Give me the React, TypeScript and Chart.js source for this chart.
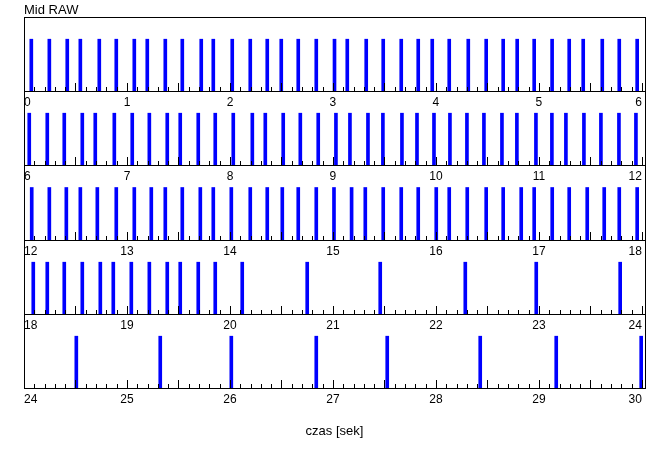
import React, { useEffect, useRef } from 'react';
import { Chart, registerables } from 'chart.js';

Chart.register(...registerables);

// ---------- data ----------
const CHART_TITLE = 'Mid RAW';
const AXIS_TITLE = 'czas [sek]';
const PANEL_STARTS = [0, 6, 12, 18, 24];
const PANEL_SPAN = 6.03; // seconds visible in one strip
const BAR_LEVEL = 0.7; // height of each beat mark (fraction of strip)

const TICKS_1 = [0, 1, 2, 3, 4, 5, 6];
const TICKS_2 = [6, 7, 8, 9, 10, 11, 12];
const TICKS_3 = [12, 13, 14, 15, 16, 17, 18];
const TICKS_4 = [18, 19, 20, 21, 22, 23, 24];
const TICKS_5 = [24, 25, 26, 27, 28, 29, 30];

const BEATS_1 = [
  0.071, 0.246, 0.42, 0.547, 0.731, 0.896, 1.071, 1.197, 1.372, 1.537, 1.721, 1.838,
  2.022, 2.197, 2.362, 2.498, 2.663, 2.838, 3.015, 3.139, 3.323, 3.488, 3.663, 3.828,
  3.964, 4.129, 4.314, 4.488, 4.653, 4.789, 4.954, 5.128, 5.294, 5.43, 5.615, 5.78, 5.954,
];
const BEATS_2 = [
  6.051, 6.226, 6.391, 6.566, 6.692, 6.877, 7.051, 7.217, 7.391, 7.517, 7.692, 7.857,
  8.032, 8.217, 8.343, 8.517, 8.683, 8.857, 9.029, 9.165, 9.34, 9.485, 9.67, 9.816,
  9.981, 10.136, 10.301, 10.466, 10.641, 10.786, 10.971, 11.126, 11.262, 11.437, 11.602,
  11.777, 11.942,
];
const BEATS_3 = [
  12.075, 12.246, 12.411, 12.547, 12.712, 12.896, 13.071, 13.236, 13.372, 13.537, 13.712,
  13.838, 14.013, 14.197, 14.362, 14.508, 14.663, 14.838, 15.01, 15.181, 15.314, 15.488,
  15.663, 15.828, 16.003, 16.129, 16.304, 16.488, 16.653, 16.828, 16.954, 17.129, 17.294,
  17.469, 17.634, 17.78, 17.954,
];
const BEATS_4 = [
  18.09, 18.226, 18.391, 18.566, 18.741, 18.867, 19.042, 19.217, 19.391, 19.517, 19.692,
  19.857, 20.119, 20.75, 21.459, 22.285, 22.974, 23.789,
];
const BEATS_5 = [24.508, 25.323, 26.013, 26.838, 27.527, 28.43, 29.168, 29.993];

const PANEL_BEATS = [BEATS_1, BEATS_2, BEATS_3, BEATS_4, BEATS_5];
const PANEL_TICKS = [TICKS_1, TICKS_2, TICKS_3, TICKS_4, TICKS_5];

// ---------- layout ----------
const W = 670;
const H = 463;
const PLOT_LEFT = 24;
const PLOT_RIGHT = 645;
const PANEL_TOPS = [17, 91, 165, 240, 314, 388];
const HEAD = 17;
const AXIS_H = 20;
const FONT = "'Liberation Sans', Arial, sans-serif";

const frameAndTicks = {
  id: 'frameAndTicks',
  afterDatasetsDraw(chart: any) {
    const { ctx, chartArea } = chart;
    const x = chart.scales.x;
    const { left, right, top, bottom } = chartArea;
    ctx.save();
    ctx.strokeStyle = '#000';
    ctx.lineWidth = 1;
    // minor ticks every 0.1 s, longer every 0.5 s
    const start = Math.round(x.min);
    ctx.beginPath();
    for (let i = 1; i <= 60; i++) {
      const v = start + i / 10;
      if (v >= x.max) break;
      const px = Math.round(x.getPixelForValue(v)) + 0.5;
      const len = i % 5 === 0 ? 8 : 4;
      ctx.moveTo(px, bottom);
      ctx.lineTo(px, bottom - len);
    }
    ctx.stroke();
    ctx.strokeRect(Math.round(left) + 0.5, Math.round(top) + 0.5, Math.round(right - left), Math.round(bottom - top));
    ctx.restore();
  },
};

function Panel({ index }: { index: number }) {
  const ref = useRef<HTMLCanvasElement>(null);
  const top = PANEL_TOPS[index];
  const plotH = PANEL_TOPS[index + 1] - top;
  const isFirst = index === 0;
  const isLast = index === PANEL_STARTS.length - 1;
  const canvasTop = top - HEAD;
  const axisH = isLast ? H - canvasTop - HEAD - plotH : AXIS_H;
  const canvasH = HEAD + plotH + axisH;

  useEffect(() => {
    const start = PANEL_STARTS[index];
    const beats = PANEL_BEATS[index];
    const ticks = PANEL_TICKS[index];
    const chart = new Chart(ref.current as HTMLCanvasElement, {
      type: 'bar',
      data: {
        datasets: [
          {
            data: beats.map((t) => ({ x: t, y: BAR_LEVEL })),
            backgroundColor: '#0000ff',
            borderWidth: 0,
            barThickness: 3,
            grouped: false,
          } as any,
        ],
      },
      options: {
        animation: false,
        responsive: false,
        devicePixelRatio: 1,
        events: [],
        layout: {
          padding: { left: PLOT_LEFT, right: W - PLOT_RIGHT, top: isFirst ? 0 : HEAD, bottom: 0 },
        },
        scales: {
          x: {
            type: 'linear',
            min: start,
            max: start + PANEL_SPAN,
            offset: false,
            grid: { display: false, drawTicks: false },
            border: { display: false },
            ticks: {
              autoSkip: false,
              maxRotation: 0,
              minRotation: 0,
              align: 'inner',
              padding: 4,
              color: '#000',
              font: { family: FONT, size: 12 },
              callback: (v: any) => String(v),
            },
            afterBuildTicks: (scale: any) => {
              scale.ticks = ticks.map((v) => ({ value: v }));
            },
            afterFit: (scale: any) => {
              scale.height = axisH;
            },
            title: {
              display: isLast,
              text: AXIS_TITLE,
              color: '#000',
              font: { family: FONT, size: 13 },
              padding: { top: 0, bottom: 24 },
            },
          } as any,
          y: { display: false, min: 0, max: 1 },
        },
        plugins: {
          legend: { display: false },
          tooltip: { enabled: false },
          title: {
            display: isFirst,
            text: CHART_TITLE,
            align: 'start',
            color: '#000',
            font: { family: FONT, size: 13, weight: 'normal' },
            padding: { top: 2.5, bottom: -1.1 },
          },
        },
      } as any,
      plugins: [frameAndTicks],
    });
    return () => chart.destroy();
  }, [index, axisH]);

  return (
    <canvas
      ref={ref}
      width={W}
      height={canvasH}
      style={{ position: 'absolute', left: 0, top: canvasTop, width: W, height: canvasH, display: 'block' }}
    />
  );
}

export default function App() {
  return (
    <div style={{ position: 'absolute', left: 0, top: 0, width: W, height: H, background: '#fff', overflow: 'hidden' }}>
      {PANEL_STARTS.map((_, i) => (
        <Panel key={i} index={i} />
      ))}
    </div>
  );
}
